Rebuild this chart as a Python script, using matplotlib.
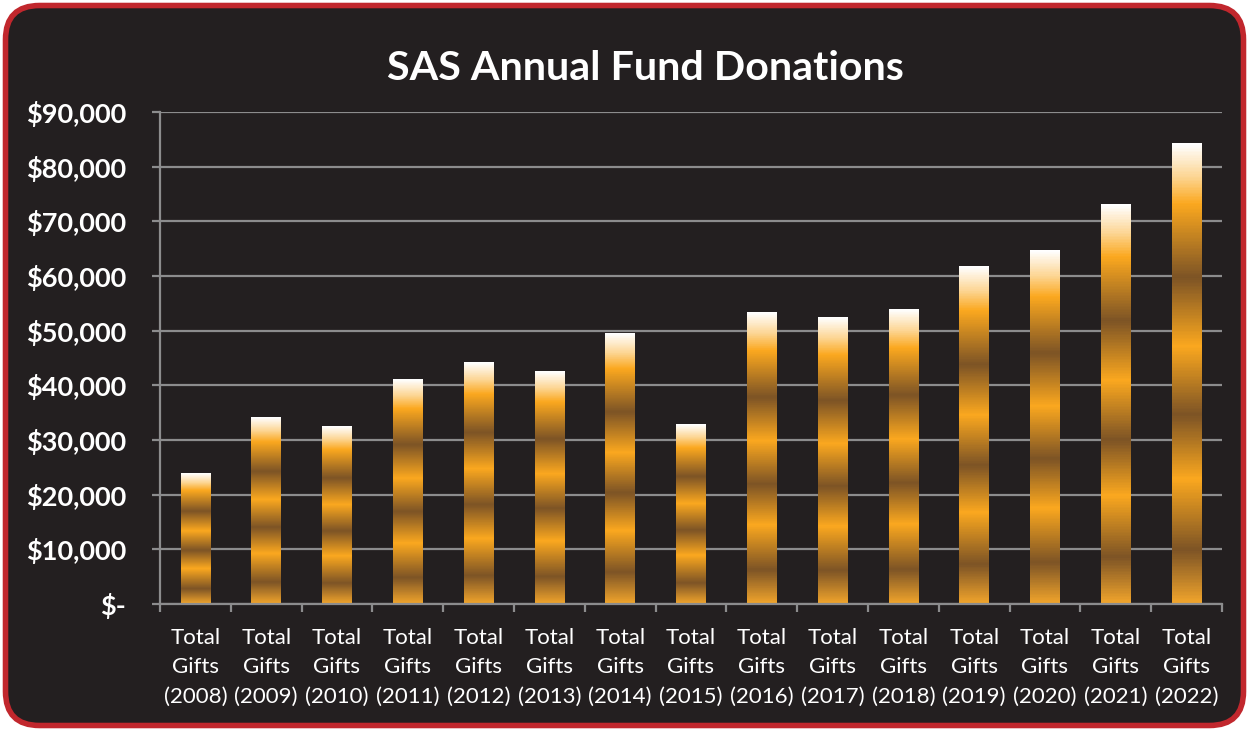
import matplotlib.pyplot as plt
import numpy as np
from matplotlib.colors import LinearSegmentedColormap
from matplotlib.patches import FancyBboxPatch
from matplotlib.ticker import FuncFormatter, MultipleLocator
import matplotlib.transforms as mtransforms

plt.rcParams["font.family"] = ["Lato", "DejaVu Sans"]

# ---------------------------------------------------------------------------
# Data
# ---------------------------------------------------------------------------
years = [2008, 2009, 2010, 2011, 2012, 2013, 2014, 2015,
         2016, 2017, 2018, 2019, 2020, 2021, 2022]
donations = [23800, 34200, 32550, 41150, 44100, 42600, 49400, 32750,
             53250, 52500, 53950, 61650, 64750, 73150, 84300]
labels = [f"Total\nGifts\n({y})" for y in years]

BG     = "#231f20"
RED    = "#c1272d"
GRID   = "#8c8c8d"
ORANGE = "#fba81f"
BROWN  = "#7d5426"

# gold stripes, bottom -> top of each bar
stripes = LinearSegmentedColormap.from_list("gold", [
    (0.00, "#f0a42c"),
    (0.115, BROWN),
    (0.27, ORANGE),
    (0.41, BROWN),
    (0.56, ORANGE),
    (0.71, BROWN),
    (0.87, ORANGE),
    (0.93, "#fdd694"),
    (1.00, "#ffffff"),
])

W, H = 1249, 731
fig = plt.figure(figsize=(W / 100, H / 100), dpi=100)
fig.patch.set_facecolor("white")

# rounded frame
bg = fig.add_axes([0, 0, 1, 1], zorder=0)
bg.set_xlim(0, W)
bg.set_ylim(0, H)
bg.axis("off")
bg.add_patch(FancyBboxPatch((5.5, 5.5), W - 11, H - 11,
                            boxstyle="round,pad=0,rounding_size=34",
                            facecolor=BG, edgecolor=RED, linewidth=4))

ax = fig.add_axes([160 / W, (H - 604) / H, (1222 - 160) / W, (604 - 112) / H], zorder=1)
ax.set_facecolor("none")

x = np.arange(len(years))
bars = ax.bar(x, donations, width=0.42, color="none", zorder=2)
grad = np.linspace(0, 1, 400).reshape(-1, 1)
for b in bars:
    ax.imshow(grad, cmap=stripes, origin="lower", aspect="auto", zorder=2,
              extent=(b.get_x(), b.get_x() + b.get_width(), 0, b.get_height()))

ax.set_xlim(-0.5, len(years) - 0.5)
ax.set_ylim(0, 90000)
ax.yaxis.set_major_locator(MultipleLocator(10000))
ax.yaxis.set_major_formatter(FuncFormatter(lambda v, p: "$-" if v == 0 else f"${v:,.0f}"))
ax.grid(axis="y", color=GRID, linewidth=1.6, zorder=1)
ax.set_axisbelow(True)

ax.set_xticks(x)
ax.set_xticklabels(labels, linespacing=1.6)
ax.set_xticks(np.arange(-0.5, len(years)), minor=True)
ax.tick_params(axis="x", which="major", length=0, pad=17, labelsize=16, labelcolor="white")
ax.tick_params(axis="x", which="minor", length=6, width=1.6, color=GRID)
ax.tick_params(axis="y", length=6, width=1.6, color=GRID, pad=18,
               labelsize=19.5, labelcolor="white")
for lab in ax.get_yticklabels():
    lab.set_fontweight("bold")

for side in ["top", "right"]:
    ax.spines[side].set_visible(False)
for side in ["left", "bottom"]:
    ax.spines[side].set_color(GRID)
    ax.spines[side].set_linewidth(1.6)

fig.text(645 / W, 1 - 68 / H, "SAS Annual Fund Donations", ha="center", va="center",
         color="white", fontsize=29.7, fontweight="bold")

# line the y labels' right edge up at x=126 px
fig.canvas.draw()
ylab = ax.get_yticklabels()[-1]
shift = 126 - ylab.get_window_extent().x1
ax.tick_params(axis="y", pad=18 - shift * 0.72)
for lab in ax.get_yticklabels():
    lab.set_fontweight("bold")

# accounting format puts the dash further in
fig.canvas.draw()
zero_lab = ax.get_yticklabels()[0]
zero_lab.set_transform(zero_lab.get_transform() +
                       mtransforms.ScaledTranslation(-0.14, 0, fig.dpi_scale_trans))

fig.savefig("out.png", dpi=100, facecolor="white")
